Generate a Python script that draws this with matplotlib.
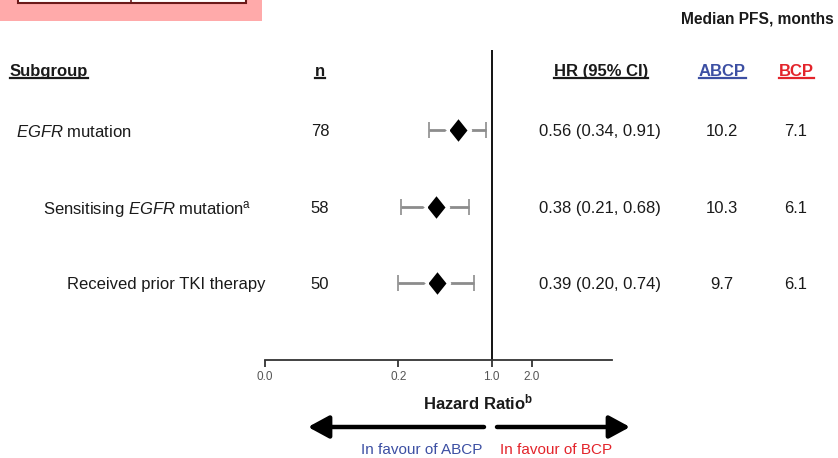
import matplotlib
matplotlib.use("Agg")
import matplotlib.pyplot as plt
import numpy as np
from matplotlib import font_manager
from matplotlib.lines import Line2D
from matplotlib.patches import Rectangle, FancyArrowPatch
from matplotlib.transforms import blended_transform_factory

# data
labels = ["$\\it{EGFR}$ mutation",
          "Sensitising $\\it{EGFR}$ mutation$^{\\rm a}$",
          "Received prior TKI therapy"]
n_pts = [78, 58, 50]
hr = np.array([0.56, 0.38, 0.39])
lo = np.array([0.34, 0.21, 0.20])
hi = np.array([0.91, 0.68, 0.74])
pfs_abcp = [10.2, 10.3, 9.7]
pfs_bcp = [7.1, 6.1, 6.1]
xticks = [0.02, 0.2, 1.0, 2.0]
xtick_labels = ["0.0", "0.2", "1.0", "2.0"]

BLUE = "#3c4fa3"
RED = "#e3242b"
INK = "#1a1a1a"
W, H = 838, 458

names = {f.name for f in font_manager.fontManager.ttflist}
FAM = "Liberation Sans Narrow" if "Liberation Sans Narrow" in names else "Liberation Sans"
plt.rcParams["font.family"] = [FAM, "DejaVu Sans"]
plt.rcParams["mathtext.fontset"] = "custom"
plt.rcParams["mathtext.rm"] = FAM
plt.rcParams["mathtext.it"] = FAM + ":italic"
plt.rcParams["mathtext.bf"] = FAM + ":bold"
FS = 14 if FAM.endswith("Narrow") else 12

fig = plt.figure(figsize=(W / 100, H / 100), dpi=100)
ax = fig.add_axes([265 / W, 1 - 360 / H, 347 / W, 310 / H])
ax.set_xscale("log")
ax.set_xlim(0.02, 8.0)
ax.set_ylim(0, 4.05)
rows = np.arange(len(labels), 0, -1)

ax.axvline(1.0, color="black", lw=1.3, zorder=1)
ax.errorbar(hr, rows, xerr=[hr - lo, hi - hr], fmt="none", ecolor="#8c8c8c",
            elinewidth=2, capsize=6, capthick=1.2, zorder=2)
diamond = [(-0.8, 0), (0, 1), (0.8, 0), (0, -1), (-0.8, 0)]
ax.plot(hr, rows, ls="none", marker=diamond, ms=21, mfc="black", mec="white",
        mew=3, zorder=3)

for sp in ("top", "right", "left"):
    ax.spines[sp].set_visible(False)
ax.spines["bottom"].set_color("#333333")
ax.spines["bottom"].set_linewidth(1.3)
ax.set_yticks([])
ax.xaxis.set_minor_locator(matplotlib.ticker.NullLocator())
ax.set_xticks(xticks)
ax.set_xticklabels(xtick_labels)
ax.tick_params(axis="x", length=5, width=1.3, color="#333333", labelsize=8.5,
               labelcolor="#555555", pad=3)

tr = blended_transform_factory(fig.transFigure, ax.transData)
label_x = [16, 43, 67]
for r, lab, lx, n, h, l, u, a, b in zip(rows, labels, label_x, n_pts, hr, lo, hi,
                                        pfs_abcp, pfs_bcp):
    kw = dict(transform=tr, va="center_baseline", fontsize=FS, color=INK)
    ax.text(lx / W, r, lab, ha="left", **kw)
    ax.text(320 / W, r, f"{n}", ha="center", **kw)
    ax.text(539 / W, r, f"{h:.2f} ({l:.2f}, {u:.2f})", ha="left", **kw)
    ax.text(722 / W, r, f"{a}", ha="center", **kw)
    ax.text(796 / W, r, f"{b}", ha="center", **kw)

hy = 1 - 70 / H
hkw = dict(va="center_baseline", fontsize=FS, weight="bold")
headers = [
    fig.text(10 / W, hy, "Subgroup", ha="left", color=INK, **hkw),
    fig.text(320 / W, hy, "n", ha="center", color=INK, **hkw),
    fig.text(601 / W, hy, "HR (95% CI)", ha="center", color=INK, **hkw),
    fig.text(722 / W, hy, "ABCP", ha="center", color=BLUE, **hkw),
    fig.text(796 / W, hy, "BCP", ha="center", color=RED, **hkw),
]
fig.text(834 / W, 1 - 18 / H, "Median PFS, months", ha="right", va="center_baseline",
         fontsize=FS - 0.8, weight="bold", color=INK)

fig.text(478 / W, 1 - 401 / H, "Hazard Ratio$^{\\mathbf{b}}$", ha="center",
         va="center_baseline", fontsize=FS, weight="bold", color=INK)
fig.text(422 / W, 1 - 448 / H, "In favour of ABCP", ha="center", va="center_baseline",
         fontsize=FS - 1, color=BLUE)
fig.text(556 / W, 1 - 448 / H, "In favour of BCP", ha="center", va="center_baseline",
         fontsize=FS - 1, color=RED)

arrow = dict(arrowstyle="-|>,head_length=0.7,head_width=0.38", lw=3.2,
             color="black", mutation_scale=18, shrinkA=0, shrinkB=0)
ay = 1 - 427 / H
fig.add_artist(FancyArrowPatch((484 / W, ay), (308 / W, ay),
                               transform=fig.transFigure, **arrow))
fig.add_artist(FancyArrowPatch((497 / W, ay), (630 / W, ay),
                               transform=fig.transFigure, **arrow))

# pink tab at the top-left
fig.add_artist(Rectangle((0, 1 - 21 / H), 262 / W, 21 / H, transform=fig.transFigure,
                         facecolor="#ffaaaa", edgecolor="none"))
fig.add_artist(Rectangle((18 / W, 1 - 3 / H), 228 / W, 10 / H, transform=fig.transFigure,
                         facecolor="white", edgecolor="#6b1a1a", lw=1.5))
fig.add_artist(Line2D([131 / W, 131 / W], [1 - 3 / H, 1], transform=fig.transFigure,
                      color="#6b1a1a", lw=1.2))

# underline the column headers
fig.canvas.draw()
rend = fig.canvas.get_renderer()
inv = fig.transFigure.inverted()
for t in headers:
    bb = t.get_window_extent(rend)
    (x0, y0), (x1, _) = inv.transform([(bb.x0, bb.y0 + 1), (bb.x1, bb.y0)])
    fig.add_artist(Line2D([x0, x1], [y0, y0], transform=fig.transFigure,
                          color=t.get_color(), lw=1.6))

fig.savefig("out.png", dpi=100, facecolor="white")
